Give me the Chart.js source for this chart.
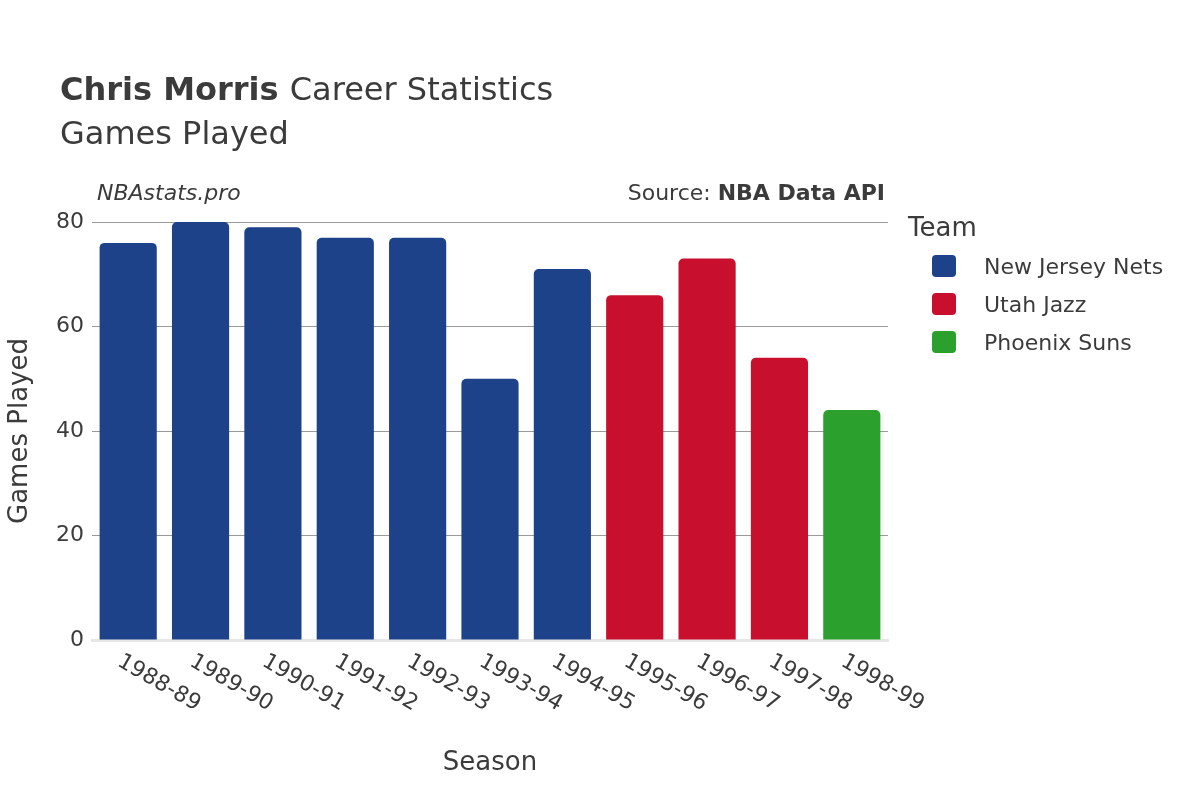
<!DOCTYPE html>
<html>
<head>
<meta charset="utf-8">
<script src="https://cdn.jsdelivr.net/npm/chart.js@4"></script>
<style>
  body { margin: 0; background: #fff; }
  #wrap { width: 1200px; height: 800px; }
</style>
</head>
<body>
<div id="wrap"><canvas id="chart" width="1200" height="800"></canvas></div>
<script>
const seasons = ['1988-89', '1989-90', '1990-91', '1991-92', '1992-93', '1993-94', '1994-95', '1995-96', '1996-97', '1997-98', '1998-99'];
const gamesPlayed = [76, 80, 79, 77, 77, 50, 71, 66, 73, 54, 44];
const seasonTeams = ['New Jersey Nets', 'New Jersey Nets', 'New Jersey Nets', 'New Jersey Nets', 'New Jersey Nets', 'New Jersey Nets', 'New Jersey Nets', 'Utah Jazz', 'Utah Jazz', 'Utah Jazz', 'Phoenix Suns'];
const teams = ['New Jersey Nets', 'Utah Jazz', 'Phoenix Suns'];
const teamColors = { 'New Jersey Nets': '#1d4289', 'Utah Jazz': '#c8102e', 'Phoenix Suns': '#2ca02c' };
const yTicks = [0, 20, 40, 60, 80];

const FONT = '"DejaVu Sans", "Noto Sans", sans-serif';
const TXT = '#3b3b3b';

// titles, axis labels, rotated season labels and legend
const decorations = {
  id: 'decorations',
  afterDraw(chart) {
    const ctx = chart.ctx;
    const area = chart.chartArea;
    const x = chart.scales.x;
    ctx.save();
    ctx.fillStyle = TXT;
    ctx.textBaseline = 'alphabetic';

    ctx.font = 'bold 32px ' + FONT;
    ctx.textAlign = 'left';
    ctx.fillText('Chris Morris', 60, 100);
    const w = ctx.measureText('Chris Morris ').width;
    ctx.font = '32px ' + FONT;
    ctx.fillText('Career Statistics', 60 + w, 100);
    ctx.fillText('Games Played', 60, 144);

    ctx.font = 'italic 22px ' + FONT;
    ctx.fillText('NBAstats.pro', 97, 200);
    ctx.textAlign = 'right';
    ctx.font = 'bold 22px ' + FONT;
    ctx.fillText('NBA Data API', area.right - 3, 200);
    const bw = ctx.measureText('NBA Data API').width;
    ctx.font = '22px ' + FONT;
    ctx.fillText('Source: ', area.right - 3 - bw, 200);

    // x tick labels rotated
    ctx.font = '22px ' + FONT;
    ctx.textAlign = 'left';
    seasons.forEach((s, i) => {
      const px = x.getPixelForValue(i);
      ctx.save();
      ctx.translate(px - 8, area.bottom + 18);
      ctx.rotate(Math.PI / 6);
      ctx.fillText(s, 0, 8);
      ctx.restore();
    });

    ctx.font = '26px ' + FONT;
    ctx.textAlign = 'center';
    ctx.fillText('Season', (area.left + area.right) / 2, 770);
    ctx.save();
    ctx.translate(27, (area.top + area.bottom) / 2);
    ctx.rotate(-Math.PI / 2);
    ctx.fillText('Games Played', 0, 0);
    ctx.restore();

    // legend
    ctx.textAlign = 'left';
    ctx.fillText('Team', 908, 236);
    ctx.font = '22px ' + FONT;
    teams.forEach((t, i) => {
      const ly = 266 + i * 38;
      ctx.fillStyle = teamColors[t];
      ctx.beginPath();
      ctx.roundRect(932, ly - 11, 24, 22, 4);
      ctx.fill();
      ctx.fillStyle = TXT;
      ctx.fillText(t, 984, ly + 8);
    });
    ctx.restore();
  }
};

new Chart(document.getElementById('chart'), {
  type: 'bar',
  data: {
    labels: seasons,
    datasets: [{
      label: 'Games Played',
      data: gamesPlayed,
      backgroundColor: seasonTeams.map(t => teamColors[t]),
      barPercentage: 0.79,
      categoryPercentage: 1,
      borderRadius: { topLeft: 5, topRight: 5 },
      borderSkipped: 'bottom'
    }]
  },
  options: {
    responsive: false,
    animation: false,
    devicePixelRatio: 1,
    layout: { padding: { top: 222, right: 312, left: 0, bottom: 0 } },
    plugins: { legend: { display: false }, tooltip: { enabled: false } },
    scales: {
      x: {
        grid: { display: false },
        border: { display: true, color: '#e6e6e6', width: 3 },
        ticks: { display: false },
        afterFit(s) { s.height = 160; }
      },
      y: {
        min: 0,
        max: 80,
        afterBuildTicks(s) { s.ticks = yTicks.map(v => ({ value: v })); },
        grid: { color: ctx => ctx.tick && ctx.tick.value === 0 ? '#e6e6e6' : '#9a9a9a', lineWidth: 1, drawTicks: false },
        border: { display: false },
        ticks: { color: TXT, font: { family: FONT, size: 22 }, padding: 8 },
        afterFit(s) { s.width = 92; }
      }
    }
  },
  plugins: [decorations]
});
</script>
</body>
</html>
